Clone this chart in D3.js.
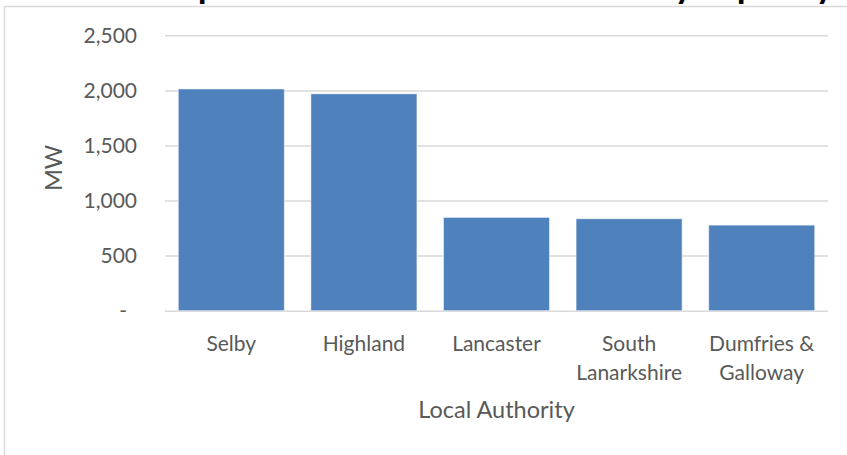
<!DOCTYPE html>
<html>
<head>
<meta charset="utf-8">
<script src="https://cdn.jsdelivr.net/npm/d3@7"></script>
<style>
  html, body { margin: 0; padding: 0; background: #fff; overflow: hidden; }
  svg { display: block; font-family: Lato, "Open Sans", "Liberation Sans", sans-serif; }
</style>
</head>
<body>
<svg id="chart" width="847" height="455"></svg>
<script>
// ---- data ----
const chartTitle = "Top 5 Local Authorities ranked by capacity";
const categories = ["Selby", "Highland", "Lancaster", "South Lanarkshire", "Dumfries & Galloway"];
const capacityMW = [2013, 1969, 847, 835, 777];
const yTicks = [0, 500, 1000, 1500, 2000, 2500];
const yAxisTitle = "MW";
const xAxisTitle = "Local Authority";

// ---- layout ----
const W = 847, H = 455;
const plot = { left: 165, right: 828, top: 35.3, bottom: 310.7 };
const textColor = "#595959";
const gridColor = "#d9d9d9";
const barColor = "#4f81bd";

const svg = d3.select("#chart");
svg.append("rect").attr("width", W).attr("height", H).attr("fill", "#fff");

// chart area frame
svg.append("rect")
  .attr("x", 4.5).attr("y", 6.5)
  .attr("width", W + 40).attr("height", H + 40)
  .attr("fill", "none")
  .attr("stroke", gridColor)
  .attr("stroke-width", 1.5);

// chart title
svg.append("text")
  .attr("x", 497).attr("y", -2)
  .attr("text-anchor", "middle")
  .attr("font-size", 36)
  .attr("font-weight", 700)
  .attr("fill", "#000")
  .text(chartTitle);

// ---- scales ----
const x = d3.scaleBand()
  .domain(categories)
  .range([plot.left, plot.right])
  .paddingInner(0.2)
  .paddingOuter(0.1);

const y = d3.scaleLinear()
  .domain([0, 2500])
  .range([plot.bottom, plot.top]);

// ---- y axis with gridlines ----
const yAxis = d3.axisLeft(y)
  .tickValues(yTicks)
  .tickSizeInner(-(plot.right - plot.left))
  .tickSizeOuter(0)
  .tickPadding(28)
  .tickFormat(d => d === 0 ? "-" : d3.format(",")(d));

const gy = svg.append("g")
  .attr("transform", `translate(${plot.left},0)`)
  .call(yAxis);
gy.select(".domain").remove();
gy.selectAll(".tick line")
  .attr("stroke", gridColor)
  .attr("stroke-width", 1.5);
gy.selectAll(".tick text")
  .attr("font-size", 21)
  .attr("font-family", "Lato, 'Open Sans', sans-serif")
  .attr("fill", textColor)
  .attr("dx", d => d === 0 ? -10 : 0);

// ---- bars ----
svg.append("g")
  .selectAll("rect")
  .data(categories.map((c, i) => ({ c, v: capacityMW[i] })))
  .join("rect")
  .attr("x", d => x(d.c))
  .attr("y", d => y(d.v))
  .attr("width", x.bandwidth())
  .attr("height", d => y(0) - y(d.v))
  .attr("fill", barColor)
  .attr("stroke", "#ffffff")
  .attr("stroke-opacity", 0.55)
  .attr("stroke-width", 1);

// ---- x axis (category labels, wrapped to the band step) ----
const xAxis = d3.axisBottom(x).tickSize(0).tickPadding(0);
const gx = svg.append("g")
  .attr("transform", `translate(0,${plot.bottom})`)
  .call(xAxis);
gx.select(".domain").remove();

const lineGap = 29;
gx.selectAll(".tick text")
  .attr("font-size", 21)
  .attr("font-family", "Lato, 'Open Sans', sans-serif")
  .attr("fill", textColor)
  .attr("y", 40)
  .attr("dy", 0)
  .each(function (d) {
    const t = d3.select(this);
    const words = d.split(" ");
    t.text(null);
    const maxW = x.step();
    let lines = [];
    let cur = [];
    const probe = t.append("tspan").attr("x", 0);
    for (const w of words) {
      const trial = cur.concat(w).join(" ");
      probe.text(trial);
      if (cur.length && probe.node().getComputedTextLength() > maxW) {
        lines.push(cur.join(" "));
        cur = [w];
      } else {
        cur.push(w);
      }
    }
    if (cur.length) lines.push(cur.join(" "));
    probe.remove();
    lines.forEach((ln, i) => {
      t.append("tspan")
        .attr("x", 0)
        .attr("y", 40 + i * lineGap)
        .text(ln);
    });
  });

// ---- axis titles ----
svg.append("text")
  .attr("transform", `translate(62.3,168) rotate(-90)`)
  .attr("text-anchor", "middle")
  .attr("font-size", 23.5)
  .attr("fill", textColor)
  .text(yAxisTitle);

svg.append("text")
  .attr("x", (plot.left + plot.right) / 2)
  .attr("y", 418)
  .attr("text-anchor", "middle")
  .attr("font-size", 23.5)
  .attr("fill", textColor)
  .text(xAxisTitle);
</script>
</body>
</html>
